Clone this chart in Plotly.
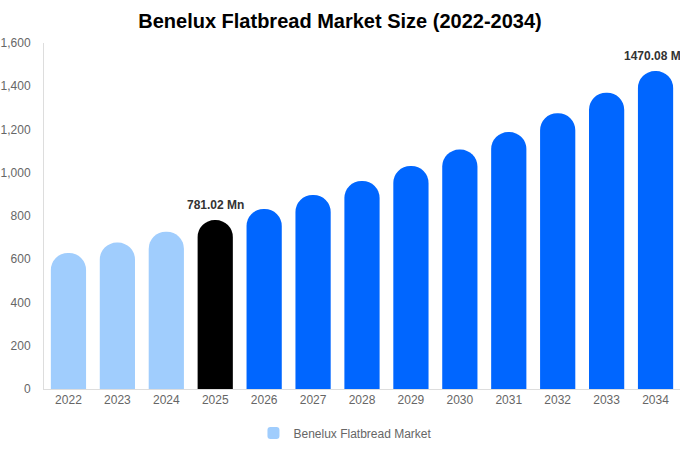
import plotly.graph_objects as go

years = ["2022", "2023", "2024", "2025", "2026", "2027", "2028", "2029", "2030", "2031", "2032", "2033", "2034"]
values = [629, 677, 727, 781.02, 832, 897, 962, 1031, 1107, 1188, 1275, 1370, 1470.08]
colors = ["#a0cdfd"] * 3 + ["#000000"] + ["#0066ff"] * 9
labelled = {"2025": "781.02 Mn", "2034": "1470.08 Mn"}
series_name = "Benelux Flatbread Market"
title = "Benelux Flatbread Market Size (2022-2034)"
y_ticks = [0, 200, 400, 600, 800, 1000, 1200, 1400, 1600]

fig = go.Figure()
fig.add_trace(go.Bar(
    x=years, y=values, name=series_name,
    marker=dict(color=colors, cornerradius=18, line=dict(width=0)),
    showlegend=True, hoverinfo="x+y",
))

for i, (yr, v) in enumerate(zip(years, values)):
    if yr in labelled:
        fig.add_annotation(x=i, y=v, text="<b>" + labelled[yr] + "</b>",
                           showarrow=False, yanchor="bottom", yshift=6,
                           font=dict(size=12, color="#333333", family="Liberation Sans, Arial"))

fig.update_layout(
    width=680, height=450,
    margin=dict(l=44, r=0, t=43, b=61, autoexpand=False),
    paper_bgcolor="white", plot_bgcolor="white",
    font=dict(family="Liberation Sans, Arial", color="#666666", size=12),
    title=dict(text="<b>" + title + "</b>", x=0.5, xanchor="center", y=0.953, yanchor="middle",
               font=dict(size=20, color="#000000", family="Liberation Sans, Arial")),
    bargap=0.28,
    showlegend=True,
    legend=dict(orientation="h", x=0.474, xanchor="center", y=-0.127, yanchor="middle",
                font=dict(size=12, color="#666666")),
    xaxis=dict(type="category", range=[-0.5, len(years) - 0.5], showgrid=False, showline=True,
               linecolor="#dddddd", linewidth=1, ticks="", automargin=False,
               tickfont=dict(size=12, color="#666666")),
    yaxis=dict(range=[0, 1600], tickvals=y_ticks, tickformat=",", showgrid=False,
               showline=True, linecolor="#dddddd", linewidth=1, zeroline=False, automargin=False,
               ticks="", ticklabelstandoff=10, tickfont=dict(size=12, color="#666666")),
)

fig.write_html("out.html", config={"displayModeBar": False},
               post_script="document.body.style.margin='0';")
